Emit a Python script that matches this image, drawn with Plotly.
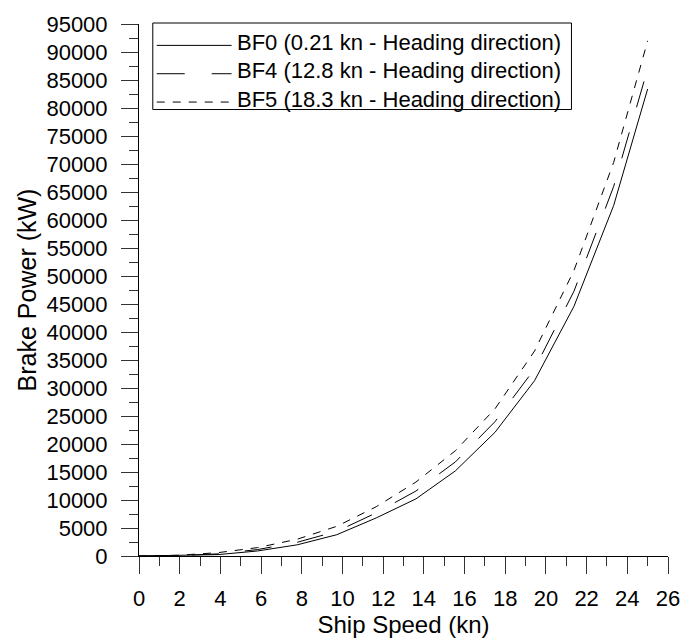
import plotly.graph_objects as go

# Ship speed (kn) and brake power (kW) for three wind conditions
speed_kn = [0, 1.94, 3.89, 5.83, 7.78, 9.72, 11.66, 13.61, 15.55, 17.5, 19.44, 21.38, 23.33, 25.0]
power_bf0 = [0, 60, 250, 900, 2000, 3800, 6800, 10200, 15200, 22100, 31300, 44600, 62600, 83400]
power_bf4 = [0, 90, 380, 1150, 2450, 4400, 7700, 11600, 16800, 24000, 33400, 47300, 66000, 87000]
power_bf5 = [0, 130, 600, 1500, 3000, 5300, 8800, 13200, 18800, 26300, 36600, 51000, 70300, 92000]

series_names = [
    "BF0 (0.21 kn - Heading direction)",
    "BF4 (12.8 kn - Heading direction)",
    "BF5 (18.3 kn - Heading direction)",
]
series_values = [power_bf0, power_bf4, power_bf5]
line_dashes = ["solid", "27px,26px", "8px,8px"]
legend_dashes = ["solid", "28px,27px", "8px,8px"]

FONT = "Arial, Liberation Sans, sans-serif"

fig = go.Figure()
for name, vals, dash in zip(series_names, series_values, line_dashes):
    fig.add_trace(go.Scatter(
        x=speed_kn, y=vals, mode="lines", name=name,
        line=dict(color="black", width=1, dash=dash),
        showlegend=False,
    ))

# Plot-area geometry in pixels, used for the boxed legend
W, H = 692, 642
L, R, T, B = 139, 16, 21, 86
pw, ph = W - L - R, H - T - B


def px_x(x):
    return (x - L) / pw


def px_y(y):
    return (H - B - y) / ph


shapes = [dict(type="rect", xref="paper", yref="paper",
               x0=px_x(153), x1=px_x(578), y0=px_y(107), y1=px_y(20),
               line=dict(color="black", width=1), fillcolor="white", layer="above")]
annotations = []
row_y = [42.5, 71, 99.5]
for name, dash, ry in zip(series_names, legend_dashes, row_y):
    shapes.append(dict(type="line", xref="paper", yref="paper",
                       x0=px_x(157), x1=px_x(233), y0=px_y(ry), y1=px_y(ry),
                       line=dict(color="black", width=1, dash=dash), layer="above"))
    annotations.append(dict(xref="paper", yref="paper", x=px_x(236), y=px_y(ry - 3),
                            text=name, showarrow=False, xanchor="left", yanchor="middle",
                            font=dict(family=FONT, size=22, color="black")))

fig.update_layout(
    width=W, height=H,
    margin=dict(l=L, r=R, t=T, b=B, pad=0),
    paper_bgcolor="white", plot_bgcolor="white",
    font=dict(family=FONT, color="black"),
    shapes=shapes, annotations=annotations,
)

fig.update_xaxes(
    range=[0, 26], tickmode="linear", tick0=0, dtick=2,
    ticks="outside", ticklen=17, tickwidth=1, tickcolor="#333",
    minor=dict(ticks="outside", ticklen=9, dtick=1, tickwidth=1, tickcolor="#333"),
    showline=True, linecolor="black", linewidth=1,
    showgrid=False, zeroline=False,
    tickfont=dict(family=FONT, size=22, color="black"),
    ticklabelstandoff=6,
    title=dict(text="Ship Speed (kn)", font=dict(family=FONT, size=24, color="black"), standoff=2),
)
fig.update_yaxes(
    range=[0, 95000], tickmode="linear", tick0=0, dtick=5000, tickformat="d",
    ticks="outside", ticklen=17, tickwidth=1, tickcolor="#333",
    minor=dict(ticks="outside", ticklen=9, dtick=2500, tickwidth=1, tickcolor="#333"),
    showline=True, linecolor="black", linewidth=1,
    showgrid=False, zeroline=False,
    tickfont=dict(family=FONT, size=22, color="black"),
    ticklabelstandoff=9,
    title=dict(text="Brake Power (kW)", font=dict(family=FONT, size=25, color="black"), standoff=2),
)

fig.write_html("out.html")
